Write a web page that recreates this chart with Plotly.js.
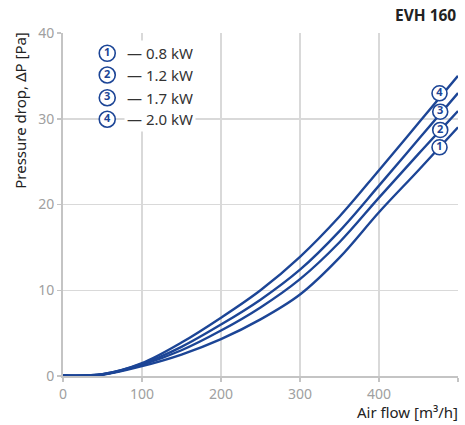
<!DOCTYPE html>
<html>
<head>
<meta charset="utf-8">
<script src="https://cdn.plot.ly/plotly-3.0.1.min.js"></script>
<style>html,body{margin:0;padding:0;background:#fff;}#chart{width:465px;height:425px;}</style>
</head>
<body>
<div id="chart"></div>
<script>
// Data
const airFlow = [0, 50, 100, 150, 200, 250, 300, 350, 400, 450, 500];
const dp08 = [0.05, 0.15, 1.15, 2.5, 4.3, 6.6, 9.5, 13.8, 19.1, 24.0, 29.0];
const dp12 = [0.05, 0.18, 1.3, 3.0, 5.3, 8.0, 11.3, 15.6, 20.8, 25.9, 30.9];
const dp17 = [0.05, 0.2, 1.4, 3.4, 6.0, 8.9, 12.4, 16.9, 22.2, 27.6, 33.0];
const dp20 = [0.05, 0.2, 1.5, 3.9, 6.8, 10.0, 13.9, 18.6, 24.0, 29.5, 35.0];
const seriesNames = ["1", "2", "3", "4"];
const seriesPower = ["0.8 kW", "1.2 kW", "1.7 kW", "2.0 kW"];
const labelX = [476.6, 477.5, 477.5, 476.6];
const labelY = [26.67, 28.69, 30.82, 32.97];
const legendX = [56, 56, 56, 56];
const legendY = [37.63, 35.1, 32.45, 29.94];
const xTicks = [0, 100, 200, 300, 400, 500];
const yTicks = [0, 10, 20, 30, 40];

const blue = "#1c4596";
const font = "Noto Sans, sans-serif";
const allSeries = [dp08, dp12, dp17, dp20];

const traces = allSeries.map((ys) => ({
  x: airFlow, y: ys, type: "scatter", mode: "lines",
  line: {color: blue, width: 2.4, shape: "spline", smoothing: 1.0},
  hoverinfo: "skip", showlegend: false
}));

traces.push({
  x: labelX, y: labelY, type: "scatter", mode: "markers+text",
  text: seriesNames, textposition: "middle center",
  textfont: {family: font, size: 11, color: blue, weight: 700},
  marker: {symbol: "circle", size: 15, color: "#fff", line: {color: blue, width: 1.6}},
  cliponaxis: false, showlegend: false, hoverinfo: "skip"
});

const annotations = [];
seriesPower.forEach((p, i) => {
  annotations.push({
    x: 77, y: legendY[i], xref: "x", yref: "y", xanchor: "left", yanchor: "middle",
    text: "— " + p, showarrow: false, bgcolor: "#fff",
    font: {family: font, size: 15, color: "#333"}, borderpad: 2
  });
});

traces.push({
  x: legendX, y: legendY, type: "scatter", mode: "markers+text",
  text: seriesNames, textposition: "middle center",
  textfont: {family: font, size: 11, color: blue, weight: 700},
  marker: {symbol: "circle", size: 16, color: "#fff", line: {color: blue, width: 1.6}},
  cliponaxis: false, showlegend: false, hoverinfo: "skip"
});

annotations.push({
  x: 1, y: 1.052, xref: "paper", yref: "paper", xanchor: "right", yanchor: "middle",
  text: "<b>EVH 160</b>", showarrow: false,
  font: {family: font, size: 15.5, color: "#222"}
});
annotations.push({
  x: 1.005, y: -0.105, xref: "paper", yref: "paper", xanchor: "right", yanchor: "middle",
  text: "Air flow [m³/h]", showarrow: false,
  font: {family: font, size: 15, color: "#222"}
});
annotations.push({
  x: -0.109, y: 0.776, xref: "paper", yref: "paper", xanchor: "center", yanchor: "middle",
  text: "Pressure drop, ΔP [Pa]", showarrow: false, textangle: -90,
  font: {family: font, size: 15, color: "#222"}
});

const layout = {
  width: 465, height: 425,
  margin: {l: 63, r: 7, t: 33, b: 49},
  paper_bgcolor: "#fff", plot_bgcolor: "#fff",
  showlegend: false,
  xaxis: {
    range: [0, 500], tickvals: xTicks, ticktext: xTicks.map(String),
    showgrid: true, gridcolor: "#d9d9d9", gridwidth: 1.5,
    showline: true, linecolor: "#c4c4c4", linewidth: 2,
    ticks: "outside", ticklen: 4, tickcolor: "#c4c4c4", tickwidth: 1.5,
    tickfont: {family: font, size: 14, color: "#a0a0a0"},
    zeroline: false, fixedrange: true
  },
  yaxis: {
    range: [0, 40], tickvals: yTicks, ticktext: yTicks.map(String),
    showgrid: true, gridcolor: "#d9d9d9", gridwidth: 1.5,
    showline: true, linecolor: "#c4c4c4", linewidth: 2,
    ticks: "outside", ticklen: 4, tickcolor: "#c4c4c4", tickwidth: 1.5,
    tickfont: {family: font, size: 14, color: "#a0a0a0"},
    zeroline: false, fixedrange: true
  },
  annotations: annotations
};

Plotly.newPlot("chart", traces, layout, {staticPlot: true, displayModeBar: false});
</script>
</body>
</html>
